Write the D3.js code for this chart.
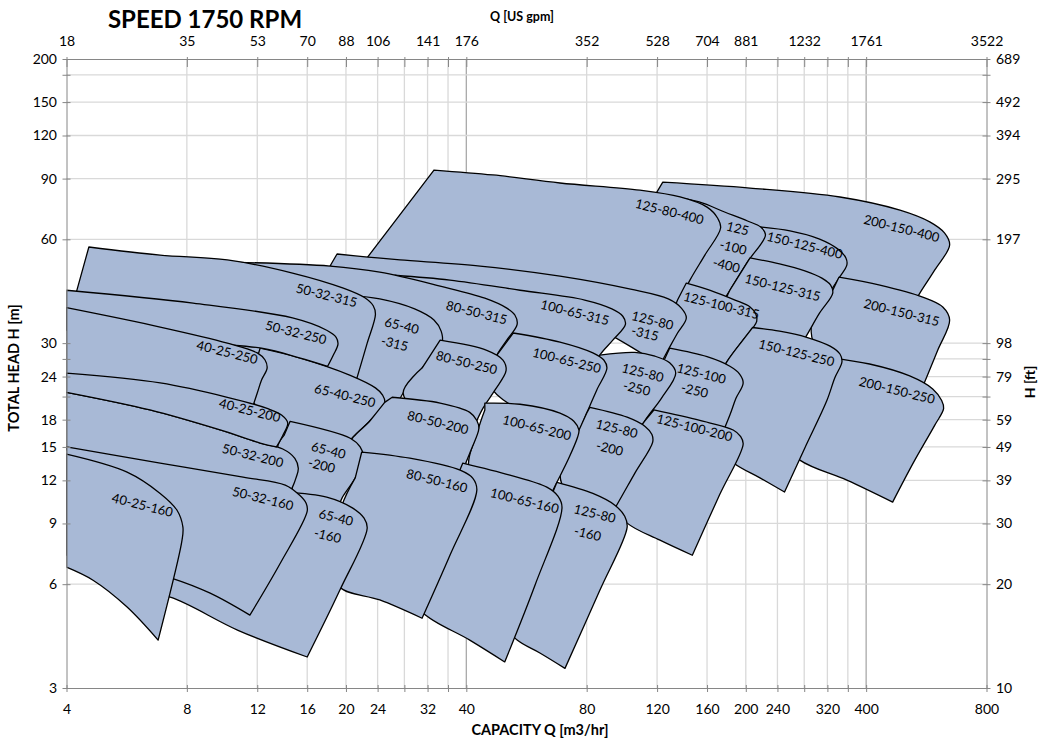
<!DOCTYPE html>
<html>
<head>
<meta charset="utf-8">
<script src="https://cdn.jsdelivr.net/npm/d3@7"></script>
<style>
    body { margin: 0; background: #fff; }
    svg { display: block; font-family: Lato, "Open Sans", sans-serif; }
    .axis text { font-size: 14px; fill: #000; }
    .axis path, .axis line { stroke: #868686; }
</style>
</head>
<body>
<svg id="chart" width="1040" height="742"></svg>
<script>
// axis values
var qTicks = [4, 8, 12, 16, 20, 24, 28, 32, 36, 40, 80, 120, 160, 200, 240, 280, 320, 360, 400, 800];
var qLabels = [4, 8, 12, 16, 20, 24, 32, 40, 80, 120, 160, 200, 240, 320, 400, 800];
var gpmAt = [4, 8, 12, 16, 20, 24, 32, 40, 80, 120, 160, 200, 280, 400, 800];
var gpmLabels = [18, 35, 53, 70, 88, 106, 141, 176, 352, 528, 704, 881, 1232, 1761, 3522];
var hTicks = [3, 6, 9, 12, 15, 18, 21, 24, 27, 30, 60, 90, 120, 150, 180, 200];
var hLabels = [3, 6, 9, 12, 15, 18, 24, 30, 60, 90, 120, 150, 200];
var ftLabels = [10, 20, 30, 39, 49, 59, 79, 98, 197, 295, 394, 492, 689];

// pump ranges, drawn in this order (Q m3/hr, H m)
var pumps = ['200-150-400', '150-125-400', '125-100-400', '125-80-400',
    '200-150-315', '150-125-315', '125-100-315', '125-80-315', '100-65-315', '80-50-315', '65-40-315', '50-32-315',
    '200-150-250', '150-125-250', '125-100-250', '125-80-250', '100-65-250', '80-50-250', '65-40-250', '50-32-250', '40-25-250',
    '125-100-200', '125-80-200', '100-65-200', '80-50-200', '65-40-200', '50-32-200', '40-25-200',
    '125-80-160', '100-65-160', '80-50-160', '65-40-160', '50-32-160', '40-25-160'];

// upper edge: max impeller curve, then the end-of-curve edge down
var tops = [
    [[124,87.9],[205,84.5],[344,79.6],[486,72.9],[577,67.4],[628,62.6],[647,57.8],[594,48.9],[545,41.9],[500,35.5]],
    [[205,65.6],[258,63.5],[306,60.1],[340,56.2],[356,53.0],[358,50.6],[342,46.3],[315,40]],
    [[115,75.4],[134.4,79.0],[153.5,76.9],[177,72.0],[202,67.8],[218,65.1],[224,61.8],[202,51.6],[182.5,42.7],[167,36.2]],
    [[33.2,95.3],[46.6,92.2],[68.6,87.4],[108.7,83.3],[137,79.6],[160,74.4],[170,69.2],[173,64.7],[158,54.0],[145,45.7],[133,37.4]],
    [[342,46.6],[433,44.2],[554,40.8],[622,38.2],[647,35.0],[604,28.6],[560,23.1],[529,19.8]],
    [[205,53.0],[243,50.9],[281,48.6],[310,46.3],[326,44.2],[330,41.9],[306,36.7],[284,31.6],[265,27.7]],
    [[142,44.8],[163,42.7],[188,40.0],[205,38.2],[212,36.4],[213,34.7],[195,30.2],[179,26.4],[167,22.7]],
    [[19.0,54.4],[22.7,53.3],[27.3,52.3],[43.3,50.2],[68.6,46.9],[103,43.0],[128,40.3],[138,37.9],[142,35.5],[135,32.1],[129,29.2],[122,25.9]],
    [[26.5,47.2],[36.4,45.7],[54.5,42.7],[79.1,40.0],[92.5,37.7],[98.5,35.9],[100,34.0],[93,30.6],[86.3,27.7],[81.5,24.2]],
    [[9.69,51.6],[18.25,50.2],[24.3,48.2],[34.4,43.9],[44.5,40.5],[50.5,37.9],[52.9,36.2],[53.6,34.0],[50.5,30.6],[47.7,27.7],[45.3,24.2]],
    [[19.9,41.4],[24.3,40.3],[29.7,37.7],[33.2,35.0],[34.6,32.5],[34.8,30.2],[31.0,25.4],[27.8,21.5],[26.5,19.2]],
    [[4.55,57.0],[6.86,54.0],[10.1,52.3],[14.7,47.9],[19.7,43.3],[22.3,40.6],[23.4,38.5],[23.7,36.4],[22.6,30.0],[21.4,24.2],[20.7,21.2]],
    [[325,27.2],[408,26.1],[514,24.1],[587,22.1],[618,20.45],[625,19.4],[594,17.35],[526,13.55],[466,10.38]],
    [[208,33.3],[243,32.5],[284,31.2],[325,29.4],[344,27.9],[348,26.5],[334,23.8],[319,20.45],[281,14.9],[250,11.1]],
    [[129,29.0],[160,27.4],[182.5,25.7],[193,24.4],[197,23.0],[189,20.75],[182.5,18.56],[172,15.7]],
    [[86.3,27.7],[105.6,28.2],[118.5,27.5],[129,26.3],[133.6,24.55],[123,20.75],[112,17.9],[105.6,15.7]],
    [[52.4,32.1],[68.6,30.2],[82.9,28.1],[88.3,26.8],[89.9,25.4],[84.8,21.95],[80.0,18.8],[76.9,16.8]],
    [[34.4,30.6],[45.0,28.6],[49.4,26.8],[50.3,25.0],[47.2,21.95],[44.0,19.4],[42.0,17.35]],
    [[12.2,29.0],[15.3,27.2],[20.5,24.2],[23.7,22.25],[24.7,21.2],[25.0,20.2],[23.0,17.9],[20.5,15.7],[19.3,14.2]],
    [[4.0,42.7],[8.29,39.2],[14.7,35.5],[17.9,32.7],[18.9,31.2],[19.1,29.8],[18.6,27.7],[18.0,25.7]],
    [[4.0,38.0],[6.86,33.4],[10.1,30.0],[12.0,28.1],[12.55,26.8],[12.7,25.4],[12.3,23.45],[12.0,21.5],[11.65,19.4]],
    [[117.8,19.2],[153.5,17.9],[186,16.8],[194,16.1],[197,15.3],[172,10.9],[147,7.28]],
    [[81.5,19.55],[101,18.3],[112,17.2],[116.5,16.3],[117,15.5],[105.6,12.6],[95.7,10.3],[88.8,8.9]],
    [[44.5,20.1],[54.5,19.95],[68.6,18.8],[74.3,17.8],[76.5,16.8],[75.9,16.0],[71.8,13.74],[67.4,11.85],[64.0,10.5]],
    [[26.1,20.9],[34.4,20.1],[40.8,18.9],[42.5,17.9],[43.0,17.0],[41.1,14.7],[39.2,12.85],[37.5,11.25]],
    [[14.5,17.8],[20.5,15.9],[21.7,15.0],[22.1,14.1],[21.1,12.2],[19.55,10.66],[18.8,9.5]],
    [[4.0,21.6],[6.47,19.2],[9.69,16.8],[12.2,15.4],[13.9,14.8],[14.9,13.9],[15.2,13.0],[15.0,12.2],[14.7,11.47],[14.1,10.5]],
    [[4.0,24.55],[6.86,23.0],[10.1,20.9],[12.7,19.4],[13.8,18.56],[14.3,17.6],[13.9,16.2],[13.4,15.0]],
    [[67.4,11.85],[82.9,11.0],[94.1,10.17],[99.6,9.44],[101,8.78],[86.3,5.76],[70.6,3.42]],
    [[39.2,13.47],[51.4,12.43],[63.6,11.47],[67.8,10.8],[69.4,10.03],[59.4,5.96],[49.9,3.57]],
    [[21.9,14.5],[28.9,13.92],[38.6,12.85],[41.5,12.18],[42.5,11.25],[36.4,7.28],[31.0,4.78]],
    [[14.1,11.1],[17.9,10.73],[20.8,9.97],[22.2,9.32],[22.6,8.72],[19.3,5.76],[16.0,3.69]],
    [[4.0,15.0],[6.86,13.47],[11.06,12.26],[14.1,11.63],[15.3,10.88],[15.9,10.3],[16.0,9.77],[13.7,6.9],[11.5,4.88]],
    [[4.0,14.3],[5.67,12.68],[6.86,11.0],[7.56,9.83],[7.82,8.78],[7.78,8.05],[6.78,4.13]]
];

// lower edge: min impeller curve, back to the left
var bottoms = [
    [[500,35.5],[273,40],[153,48.9],[109,68.3]],
    [[315,40],[243,42.7],[188,55.8]],
    [[167,36.2],[145,37.4],[122,42.7]],
    [[133,37.4],[68.6,41.4],[36.4,46.3],[21.9,50.6]],
    [[529,19.8],[386,23.4],[297,29.6],[297,37.4],[330,42.7]],
    [[265,27.7],[211,30.6],[177,37.4],[182.5,42.7]],
    [[167,22.7],[145,24.7],[122,29.6],[129,35.0],[135,40.0]],
    [[122,25.9],[76.9,35.0],[36.4,42.7],[18.25,50.2]],
    [[81.5,24.2],[54.5,29.6],[30.6,40.0]],
    [[45.3,24.2],[30.6,29.6],[15.3,40.0],[9.69,47.2]],
    [[26.5,19.2],[21.7,21.2],[15.3,30.6],[18.25,40.0]],
    [[20.7,21.2],[11.5,25.0],[4.18,40.0]],
    [[466,10.38],[358,12.02],[273,13.74],[230,16.8]],
    [[250,11.1],[217,12.2],[186,13.5],[153.5,16.8],[167,22.7],[179,26.4],[195,30.2]],
    [[172,15.7],[137,16.8],[115,17.9],[118.5,23.45]],
    [[105.6,15.7],[86.3,16.8],[76.9,21.95]],
    [[76.9,16.8],[61.1,17.9],[45.8,22.7],[47.7,27.7]],
    [[42.0,17.35],[32.4,17.9],[27.8,21.5],[31.0,25.4]],
    [[19.3,14.2],[15.3,15.7],[11.2,21.2]],
    [[18.0,25.7],[15.3,27.2],[12.3,29.0],[6.47,30.6],[4.0,32.7]],
    [[11.65,19.4],[6.47,21.95],[4.0,23.8]],
    [[147,7.28],[122,8.05],[101,9.02],[91.4,10.5],[108.7,17.0],[112,17.9]],
    [[88.8,8.9],[72.7,10.5],[68.6,12.85],[75.9,16.45],[80.0,18.8]],
    [[64.0,10.5],[51.4,11.25],[40.8,12.85],[42.8,16.8],[44.5,19.2]],
    [[37.5,11.25],[27.3,12.85],[20.5,15.2],[23.0,17.9],[25.0,20.2]],
    [[18.8,9.5],[15.3,10.5],[14.1,12.85],[13.5,15.0],[14.0,16.2]],
    [[14.1,10.5],[8.63,12.0],[4.0,14.7]],
    [[13.4,15.0],[12.2,15.4],[9.69,16.8],[6.47,19.2],[4.0,21.6]],
    [[70.6,3.42],[61.1,3.79],[53.6,4.13],[48.6,4.72]],
    [[49.9,3.57],[40.8,4.13],[31.2,4.95],[28.9,5.76]],
    [[31.0,4.78],[24.3,5.4],[19.3,5.88],[18.25,7.04],[19.55,10.17],[21.1,12.2]],
    [[16.0,3.69],[10.74,4.41],[7.27,5.5],[5.78,5.76]],
    [[11.5,4.88],[9.15,5.65],[7.35,6.24],[5.52,6.81],[4.0,7.28]],
    [[6.78,4.13],[5.67,5.15],[4.66,6.16],[4.0,6.72]]
];

// labels inside the ranges
var labelText = ['40-25-160', '50-32-160', '65-40', '-160', '80-50-160', '100-65-160', '125-80', '-160',
    '40-25-200', '50-32-200', '65-40', '-200', '80-50-200', '100-65-200', '125-80', '-200', '125-100-200',
    '40-25-250', '50-32-250', '65-40-250', '80-50-250', '100-65-250', '125-80', '-250', '125-100', '-250', '150-125-250', '200-150-250',
    '50-32-315', '65-40', '-315', '80-50-315', '100-65-315', '125-80', '-315', '125-100-315', '150-125-315', '200-150-315',
    '125-80-400', '125', '-100', '-400', '150-125-400', '200-150-400'];
var labelQ = [6.2, 12.4, 18.9, 18.0, 33.8, 56.0, 83.9, 80.5,
    11.5, 11.7, 18.1, 17.4, 34.0, 60.1, 95.2, 91.4, 149,
    10.1, 15.0, 19.9, 40.1, 71.4, 110.6, 106.8, 155, 149, 268, 478,
    17.9, 27.6, 26.5, 42.5, 74.8, 117, 112, 174, 247.5, 491,
    129, 191, 186, 179, 281, 491];
var labelH = [10.2, 10.66, 9.39, 8.32, 12.0, 10.5, 9.64, 8.43,
    19.2, 14.2, 14.7, 13.3, 17.7, 17.1, 17.0, 14.9, 17.1,
    28.3, 32.3, 21.2, 26.4, 26.8, 24.7, 22.25, 24.55, 21.95, 28.2, 21.95,
    41.4, 33.8, 30.0, 36.9, 36.9, 35.0, 32.1, 38.7, 43.6, 36.9,
    72.4, 64.7, 57.0, 50.6, 57.8, 64.7];

var plotL = 66.5, plotR = 986.5, plotT = 59, plotB = 688;
var svg = d3.select('#chart');
var x = d3.scaleLog().domain([4, 800]).range([plotL, plotR]);
var y = d3.scaleLog().domain([3, 200]).range([plotB, plotT]);

// grid
var grid = svg.append('g');
grid.selectAll('line.v').data(qTicks.filter(function (d) { return d > 4 && d < 800; })).enter().append('line')
    .attr('x1', function (d) { return x(d); }).attr('x2', function (d) { return x(d); })
    .attr('y1', plotT).attr('y2', plotB)
    .attr('stroke', function (d) { return (d == 40 || d == 400) ? '#a9a9a9' : '#d9d9d9'; })
    .attr('stroke-width', 1.3);
grid.selectAll('line.h').data(hTicks.filter(function (d) { return d > 3 && d < 200; })).enter().append('line')
    .attr('x1', plotL).attr('x2', plotR)
    .attr('y1', function (d) { return y(d); }).attr('y2', function (d) { return y(d); })
    .attr('stroke', '#d9d9d9').attr('stroke-width', 1.3);

// pump ranges
svg.append('clipPath').attr('id', 'plot').append('rect')
    .attr('x', plotL).attr('y', plotT).attr('width', plotR - plotL).attr('height', plotB - plotT);

var line = d3.line()
    .x(function (d) { return x(d[0]); })
    .y(function (d) { return y(d[1]); })
    .curve(d3.curveCatmullRom.alpha(0.5));

function tilePath(i) {
    var p1 = line(tops[i]);
    var p2 = line(bottoms[i]);
    return p1 + 'L' + p2.slice(1) + 'Z';
}

svg.append('g').attr('clip-path', 'url(#plot)')
    .selectAll('path').data(pumps).enter().append('path')
    .attr('d', function (d, i) { return tilePath(i); })
    .attr('fill', '#a8b9d6')
    .attr('stroke', '#000')
    .attr('stroke-width', 1.3)
    .attr('stroke-linejoin', 'round');

svg.append('g').selectAll('text').data(labelText).enter().append('text')
    .attr('transform', function (d, i) { return 'translate(' + x(labelQ[i]) + ',' + y(labelH[i]) + ') rotate(14)'; })
    .attr('text-anchor', 'middle')
    .attr('dominant-baseline', 'central')
    .style('font-size', '13px')
    .text(function (d) { return d; });

// axes
function labelIf(list) {
    return function (d) { return list.indexOf(d) >= 0 ? d : ''; };
}

var xb = svg.append('g').attr('class', 'axis').attr('transform', 'translate(0,' + plotB + ')')
    .call(d3.axisBottom(x).tickValues(qTicks).tickFormat(labelIf(qLabels)).tickSizeInner(4).tickSizeOuter(0).tickPadding(12));
xb.selectAll('.tick line').attr('y1', -3).attr('y2', 4);

var xt = svg.append('g').attr('class', 'axis').attr('transform', 'translate(0,' + plotT + ')')
    .call(d3.axisTop(x).tickValues(qTicks).tickSizeInner(4).tickSizeOuter(0).tickPadding(9)
        .tickFormat(function (d) { var i = gpmAt.indexOf(d); return i >= 0 ? gpmLabels[i] : ''; }));
xt.selectAll('.tick line').attr('y1', -2).attr('y2', 8);

var yl = svg.append('g').attr('class', 'axis').attr('transform', 'translate(' + plotL + ',0)')
    .call(d3.axisLeft(y).tickValues(hTicks).tickFormat(labelIf(hLabels)).tickSizeInner(4).tickSizeOuter(0).tickPadding(5.5));
yl.selectAll('.tick line').attr('x1', -4).attr('x2', 4);

var yr = svg.append('g').attr('class', 'axis').attr('transform', 'translate(' + plotR + ',0)')
    .call(d3.axisRight(y).tickValues(hTicks).tickSizeInner(4).tickSizeOuter(0).tickPadding(5.5)
        .tickFormat(function (d) { var i = hLabels.indexOf(d); return i >= 0 ? ftLabels[i] : ''; }));
yr.selectAll('.tick line').attr('x1', -4).attr('x2', 4);

svg.selectAll('.axis text').style('font-family', 'Lato, sans-serif');

// titles
svg.append('text').attr('x', 205).attr('y', 28).attr('text-anchor', 'middle')
    .style('font-size', '24px').style('font-weight', 'bold').text('SPEED 1750 RPM');
svg.append('text').attr('x', 522).attr('y', 21).attr('text-anchor', 'middle')
    .style('font-size', '12.5px').style('font-weight', 'bold').text('Q [US gpm]');
svg.append('text').attr('x', 540).attr('y', 735).attr('text-anchor', 'middle')
    .style('font-size', '14.5px').style('font-weight', 'bold').text('CAPACITY Q [m3/hr]');
svg.append('text').attr('transform', 'translate(19,368) rotate(-90)').attr('text-anchor', 'middle')
    .style('font-size', '14.5px').style('font-weight', 'bold').text('TOTAL HEAD H [m]');
svg.append('text').attr('transform', 'translate(1035,382) rotate(-90)').attr('text-anchor', 'middle')
    .style('font-size', '14px').style('font-weight', 'bold').text('H [ft]');
</script>
</body>
</html>
